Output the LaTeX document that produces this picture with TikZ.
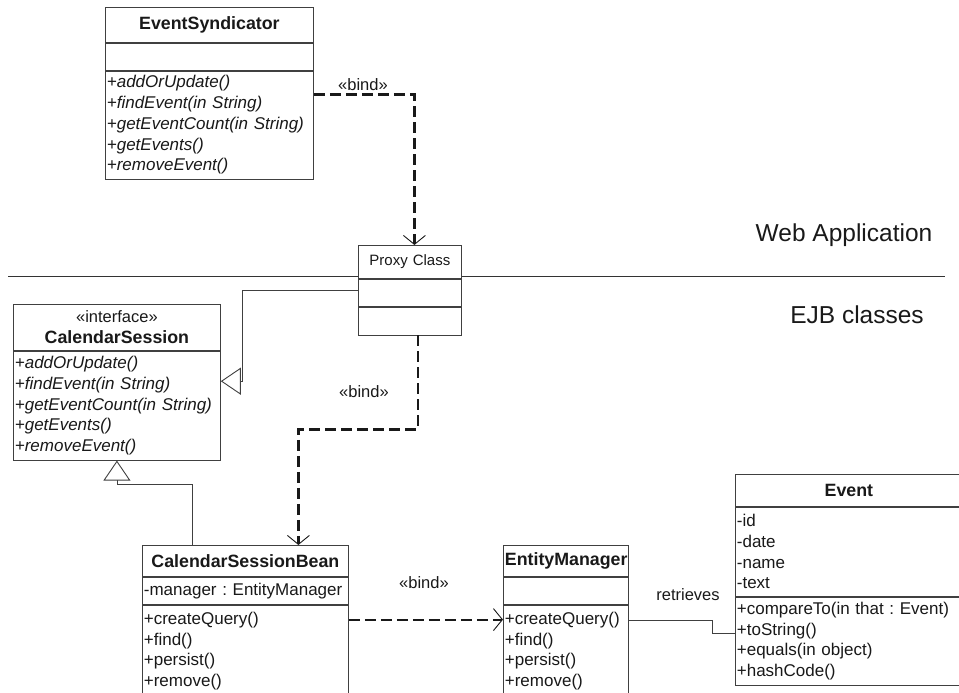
\documentclass[tikz,border=0pt]{standalone}
\usepackage{fontspec}
\setmainfont{Liberation Sans}
\usetikzlibrary{arrows.meta,positioning,backgrounds}

\newcommand{\umlfont}{\fontsize{17}{20.7}\selectfont}
\frenchspacing

\begin{document}
\begin{tikzpicture}[
    x=1pt, y=-1pt,
    box/.style={
        rectangle,
        draw=black!75,
        fill=white,
        line width=0.8pt,
        inner xsep=1.5pt,
        inner ysep=0pt,
        font=\umlfont,
        text=black!90
    },
    head/.style={
        box,
        align=center,
        font=\fontsize{17.8}{20.7}\selectfont\bfseries
    },
    members/.style={
        box,
        align=left
    },
    bind/.style={
        line width=2.2pt,
        dash pattern=on 11pt off 5pt,
        draw=black!90,
        -{Straight Barb[length=9pt,width=22pt,line width=0.9pt]}
    },
    inherit/.style={
        line width=0.8pt,
        draw=black!75,
        -{Triangle[open,length=20pt,width=27pt,line width=0.9pt,fill=white]}
    },
    assoc/.style={
        line width=0.8pt,
        draw=black!75
    },
    bindtxt/.style={
        font=\fontsize{16.5}{19}\selectfont,
        text=black!90,
        fill=white,
        inner xsep=3pt,
        inner ysep=1pt
    },
    areatxt/.style={
        font=\fontsize{24.5}{28}\selectfont,
        text=black!90
    }
]
    \useasboundingbox (0,0) rectangle (959,693);
    \clip (0,0) rectangle (959,693);

    % Web application side
    \node (es)   [head, anchor=north west, text width=205pt, minimum height=35pt] at (105,7) {EventSyndicator};
    \node (es-a) [members, below=0pt of es, text width=205pt, minimum height=27pt] {};
    \node (es-m) [members, below=0pt of es-a, text width=205pt, minimum height=108pt]
        {\itshape +addOrUpdate()\\+findEvent(in String)\\+getEventCount(in String)\\+getEvents()\\+removeEvent()};

    \node (proxy)   [box, align=center, anchor=north west, text width=100pt, minimum height=33pt,
                     font=\fontsize{15}{18}\selectfont] at (358,245) {Proxy Class};
    \node (proxy-a) [box, below=0pt of proxy, text width=100pt, minimum height=27pt] {};
    \node (proxy-b) [box, below=0pt of proxy-a, text width=100pt, minimum height=28pt] {};

    % EJB side
    \node (cs)   [head, anchor=north west, text width=204pt, minimum height=46pt] at (13,304)
        {{\mdseries\fontsize{16.5}{20}\selectfont «interface»}\\CalendarSession};
    \node (cs-m) [members, below=0pt of cs, text width=204pt, minimum height=109pt]
        {\itshape +addOrUpdate()\\+findEvent(in String)\\+getEventCount(in String)\\+getEvents()\\+removeEvent()};

    \node (bean)   [head, anchor=north west, text width=203pt, minimum height=31pt] at (142,545) {CalendarSessionBean};
    \node (bean-a) [members, below=0pt of bean, text width=203pt, minimum height=27pt] {-manager : EntityManager};
    \node (bean-m) [members, below=0pt of bean-a, text width=203pt, minimum height=92pt]
        {+createQuery()\\+find()\\+persist()\\+remove()};

    \node (em)   [head, anchor=north west, text width=122pt, minimum height=31pt] at (503,545) {EntityManager};
    \node (em-a) [members, below=0pt of em, text width=122pt, minimum height=27pt] {};
    \node (em-m) [members, below=0pt of em-a, text width=122pt, minimum height=92pt]
        {+createQuery()\\+find()\\+persist()\\+remove()};

    \node (ev)   [head, anchor=north west, text width=224pt, minimum height=32pt] at (735,474) {Event};
    \node (ev-a) [members, below=0pt of ev, text width=224pt, minimum height=89pt] {-id\\-date\\-name\\-text};
    \node (ev-m) [members, below=0pt of ev-a, text width=224pt, minimum height=88pt]
        {+compareTo(in that : Event)\\+toString()\\+equals(in object)\\+hashCode()};

    \node (webapp) [areatxt] at (844,235) {Web Application};
    \node (ejb)    [areatxt] at (857,315) {EJB classes};

    % Connectors
    \draw [bind] ([yshift=-24pt]es-m.north east) -| ([xshift=4.5pt]proxy.north);
    \node (bind1) [bindtxt] at (363,85) {«bind»};

    \draw [bind] ([xshift=8pt]proxy-b.south) -- ++(0,94) -| ([xshift=53pt]bean.north);
    \node (bind2) [bindtxt] at (364,392) {«bind»};

    \draw [bind] ([yshift=-15pt]bean-m.north east) -- ([yshift=-15pt]em-m.north west);
    \node (bind3) [bindtxt] at (424,583) {«bind»};

    \draw [assoc] ([yshift=-16pt]em-m.north east) -- ++(84,0) |- ([yshift=-37pt]ev-m.north west);
    \node (retr) [bindtxt, fill=none] at (688,595) {retrieves};

    \draw [inherit] ([yshift=2.5pt]proxy-a.west) -| ([xshift=22pt,yshift=24.5pt]cs-m.east) -- ([yshift=24.5pt]cs-m.east);
    \draw [inherit] ([xshift=-53pt]bean.north) |- ([yshift=-24pt]cs-m.south) -- (cs-m.south);

    % Tier separator
    \begin{scope}[on background layer]
        \draw[black!80, line width=0.9pt] (8,276) -- (945,276);
    \end{scope}

\end{tikzpicture}
\end{document}
